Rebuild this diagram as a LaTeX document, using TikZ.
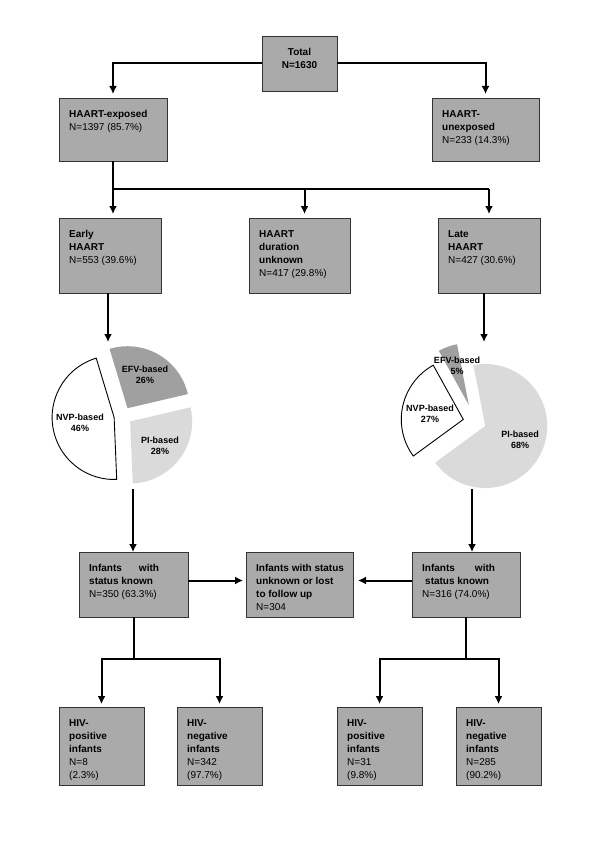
\documentclass[tikz,border=0pt]{standalone}
\usepackage{fontspec}
\setmainfont{Liberation Sans}
\usepackage{tikz}
\usetikzlibrary{arrows.meta,calc}

\definecolor{boxgray}{RGB}{170,170,170}
\definecolor{efvgray}{RGB}{160,160,160}
\definecolor{pigray}{RGB}{218,218,218}

% centre, offset, from angle, to angle, radius, style
\newcommand{\pieslice}[6]{%
	\filldraw[#6] (#1) ++({(#3+#4)/2}:#2) -- ++(#3:#5)
	  arc[start angle=#3, end angle=#4, radius=#5] -- cycle;}

\begin{document}
\begin{tikzpicture}[x=1pt, y=1pt, >={Latex[length=8pt,width=8pt]},
	  box/.style 2 args = {draw=black!80, fill=boxgray, line width=0.9pt,
	    anchor=north west, inner sep=0pt, outer sep=0pt,
	    minimum width=#1pt, minimum height=#2pt},
	  txt/.style = {anchor=north west, xshift=10pt, yshift=-12pt,
	    align=left, inner sep=0pt, font=\fontsize{10}{13}\selectfont},
	  txtc/.style = {anchor=north, yshift=-12pt,
	    align=center, inner sep=0pt, font=\fontsize{10}{13}\selectfont},
	  conn/.style = {line width=2pt},
	  arr/.style = {conn, ->, shorten >=4pt},
	  pielbl/.style = {align=center, inner sep=0pt,
	    font=\fontsize{9}{10.5}\selectfont\bfseries}]
	\useasboundingbox[fill=white] (0,0) rectangle (600,-848);

	% boxes
	\node[box={75}{55}, label={[txtc]north:{\textbf{Total}\\\textbf{N=1630}}}] (total) at (262,-36) {};
	\node[box={108}{63}, label={[txt]north west:{\textbf{HAART-exposed}\\N=1397 (85.7\%)}}] (exposed) at (59,-98) {};
	\node[box={107}{63}, label={[txt]north west:{\textbf{HAART-}\\\textbf{unexposed}\\N=233 (14.3\%)}}] (unexposed) at (432,-98) {};
	\node[box={102}{75}, label={[txt]north west:{\textbf{Early}\\\textbf{HAART}\\N=553 (39.6\%)}}] (early) at (59,-218) {};
	\node[box={101}{75}, label={[txt]north west:{\textbf{HAART}\\\textbf{duration}\\\textbf{unknown}\\N=417 (29.8\%)}}] (unknown) at (249,-218) {};
	\node[box={102}{75}, label={[txt]north west:{\textbf{Late}\\\textbf{HAART}\\N=427 (30.6\%)}}] (late) at (438,-218) {};
	\node[box={109}{65}, label={[txt]north west:{\textbf{Infants\hspace{17pt}with}\\\textbf{status known}\\N=350 (63.3\%)}}] (knownL) at (79,-552) {};
	\node[box={107}{65}, label={[txt]north west:{\textbf{Infants with status}\\\textbf{unknown or lost}\\\textbf{to follow up}\\N=304}}] (lost) at (246,-552) {};
	\node[box={108}{65}, label={[txt]north west:{\textbf{Infants\hspace{20pt}with}\\\textbf{\hspace*{3pt}status known}\\N=316 (74.0\%)}}] (knownR) at (412,-552) {};
	\node[box={85}{78}, label={[txt]north west:{\textbf{HIV-}\\\textbf{positive}\\\textbf{infants}\\N=8\\(2.3\%)}}] (posL) at (59,-707) {};
	\node[box={85}{78}, label={[txt]north west:{\textbf{HIV-}\\\textbf{negative}\\\textbf{infants}\\N=342\\(97.7\%)}}] (negL) at (177,-707) {};
	\node[box={85}{78}, label={[txt]north west:{\textbf{HIV-}\\\textbf{positive}\\\textbf{infants}\\N=31\\(9.8\%)}}] (posR) at (337,-707) {};
	\node[box={85}{78}, label={[txt]north west:{\textbf{HIV-}\\\textbf{negative}\\\textbf{infants}\\N=285\\(90.2\%)}}] (negR) at (456,-707) {};

	% pies
	\pieslice{123,-416}{9}{13.2}{106.8}{62}{fill=efvgray, draw=none}
	\pieslice{123,-416}{9}{-87.6}{13.2}{62}{fill=pigray, draw=none}
	\pieslice{123,-416}{9}{106.8}{272.4}{62}{fill=white, draw=black, line width=0.9pt}
	\pieslice{475,-422}{11}{-143.8}{101}{62}{fill=pigray, draw=none}
	\pieslice{475,-422}{18}{101}{119}{62}{fill=efvgray, draw=none}
	\pieslice{475,-422}{12}{119}{216.2}{62}{fill=white, draw=black, line width=0.9pt}
	\node[pielbl] (efvL) at (145,-375) {EFV-based\\26\%};
	\node[pielbl] (nvpL) at (80,-423) {NVP-based\\46\%};
	\node[pielbl] (piL) at (160,-446) {PI-based\\28\%};
	\node[pielbl] (efvR) at (457,-366) {EFV-based\\5\%};
	\node[pielbl] (nvpR) at (430,-414) {NVP-based\\27\%};
	\node[pielbl] (piR) at (520,-440) {PI-based\\68\%};
	\coordinate (pieLtop) at (108,-342);
	\coordinate (pieLbot) at (133,-489);
	\coordinate (pieRtop) at (484,-342);
	\coordinate (pieRbot) at (472,-489);

	% connectors
	\draw[arr] (total.west) -| (exposed.north);
	\draw[arr] (total.east) -| (unexposed.north);
	\draw[conn] (exposed.south) -- ++(0,-28) coordinate (split) -- (split -| late.north);
	\draw[arr] (split) -- (split |- early.north);
	\draw[arr] ($(split -| unknown.north)+(5,0)$) -- ($(unknown.north)+(5,0)$);
	\draw[arr] (split -| late.north) -- (late.north);
	\draw[arr, shorten >=0pt] (early.south -| pieLtop) -- (pieLtop);
	\draw[arr, shorten >=0pt] (late.south -| pieRtop) -- (pieRtop);
	\draw[arr, shorten >=0pt] (pieLbot) -- (pieLbot |- knownL.north);
	\draw[arr, shorten >=0pt] (pieRbot) -- (pieRbot |- knownR.north);
	\draw[arr, shorten >=3pt] ([yshift=4pt]knownL.east) -- ([yshift=4pt]lost.west);
	\draw[arr, shorten >=5pt] ([yshift=4pt]knownR.west) -- ([yshift=4pt]lost.east);
	\draw[conn] (knownL.south) -- ++(0,-42) coordinate (forkL);
	\draw[arr, shorten >=3pt] (forkL) -| (posL.north);
	\draw[arr, shorten >=3pt] (forkL) -| (negL.north);
	\draw[conn] (knownR.south) -- ++(0,-42) coordinate (forkR);
	\draw[arr, shorten >=3pt] (forkR) -| (posR.north);
	\draw[arr, shorten >=3pt] (forkR) -| (negR.north);
\end{tikzpicture}
\end{document}
